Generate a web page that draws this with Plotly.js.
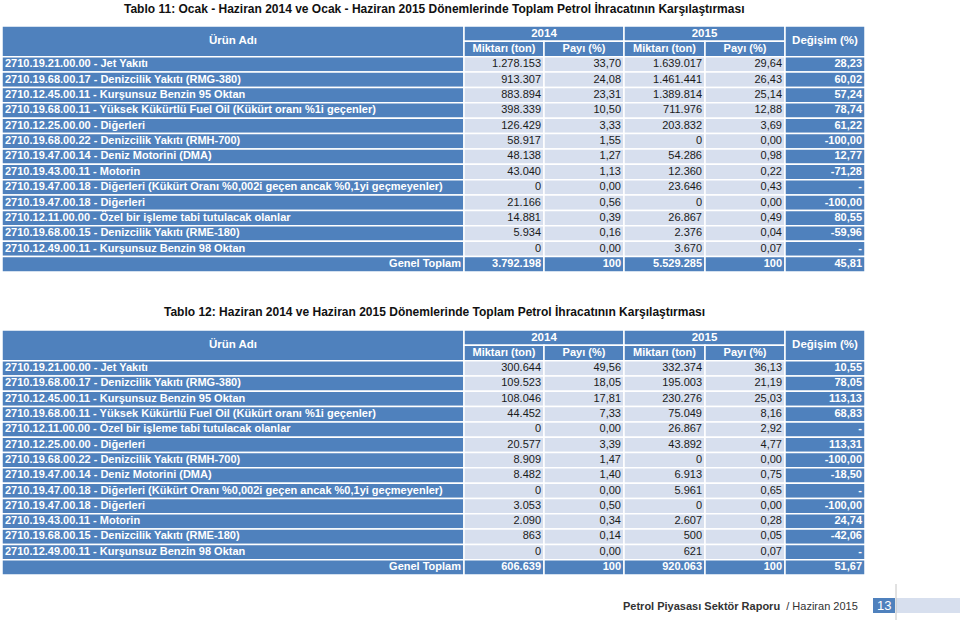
<!DOCTYPE html>
<html><head><meta charset="utf-8">
<script src="https://cdn.plot.ly/plotly-3.0.1.min.js"></script>
<style>html,body{margin:0;padding:0;background:#fff}#chart{width:960px;height:620px}</style>
</head><body><div id="chart"></div>
<script>
// ---------- DATA ----------
const title11 = "Tablo 11: Ocak - Haziran 2014 ve Ocak - Haziran 2015 Dönemlerinde Toplam Petrol İhracatının Karşılaştırması";
const title12 = "Tablo 12: Haziran 2014 ve Haziran 2015 Dönemlerinde Toplam Petrol İhracatının Karşılaştırması";
const headerProduct = "Ürün Adı";
const headerYears = ["2014", "2015"];
const headerSub = ["Miktarı (ton)", "Payı (%)", "Miktarı (ton)", "Payı (%)"];
const headerChange = "Değişim (%)";
const totalLabel = "Genel Toplam";

const t11Products = [
  "2710.19.21.00.00 - Jet Yakıtı",
  "2710.19.68.00.17 - Denizcilik Yakıtı (RMG-380)",
  "2710.12.45.00.11 - Kurşunsuz Benzin 95 Oktan",
  "2710.19.68.00.11 - Yüksek Kükürtlü Fuel Oil (Kükürt oranı %1i geçenler)",
  "2710.12.25.00.00 - Diğerleri",
  "2710.19.68.00.22 - Denizcilik Yakıtı (RMH-700)",
  "2710.19.47.00.14 - Deniz Motorini (DMA)",
  "2710.19.43.00.11 - Motorin",
  "2710.19.47.00.18 - Diğerleri (Kükürt Oranı %0,002i geçen ancak %0,1yi geçmeyenler)",
  "2710.19.47.00.18 - Diğerleri",
  "2710.12.11.00.00 - Özel bir işleme tabi tutulacak olanlar",
  "2710.19.68.00.15 - Denizcilik Yakıtı (RME-180)",
  "2710.12.49.00.11 - Kurşunsuz Benzin 98 Oktan"
];
const t11Qty2014   = [1278153, 913307, 883894, 398339, 126429, 58917, 48138, 43040, 0, 21166, 14881, 5934, 0];
const t11Share2014 = [33.70, 24.08, 23.31, 10.50, 3.33, 1.55, 1.27, 1.13, 0.00, 0.56, 0.39, 0.16, 0.00];
const t11Qty2015   = [1639017, 1461441, 1389814, 711976, 203832, 0, 54286, 12360, 23646, 0, 26867, 2376, 3670];
const t11Share2015 = [29.64, 26.43, 25.14, 12.88, 3.69, 0.00, 0.98, 0.22, 0.43, 0.00, 0.49, 0.04, 0.07];
const t11Change    = [28.23, 60.02, 57.24, 78.74, 61.22, -100.00, 12.77, -71.28, null, -100.00, 80.55, -59.96, null];
const t11Total     = [3792198, 100, 5529285, 100, 45.81];

const t12Products = [
  "2710.19.21.00.00 - Jet Yakıtı",
  "2710.19.68.00.17 - Denizcilik Yakıtı (RMG-380)",
  "2710.12.45.00.11 - Kurşunsuz Benzin 95 Oktan",
  "2710.19.68.00.11 - Yüksek Kükürtlü Fuel Oil (Kükürt oranı %1i geçenler)",
  "2710.12.11.00.00 - Özel bir işleme tabi tutulacak olanlar",
  "2710.12.25.00.00 - Diğerleri",
  "2710.19.68.00.22 - Denizcilik Yakıtı (RMH-700)",
  "2710.19.47.00.14 - Deniz Motorini (DMA)",
  "2710.19.47.00.18 - Diğerleri (Kükürt Oranı %0,002i geçen ancak %0,1yi geçmeyenler)",
  "2710.19.47.00.18 - Diğerleri",
  "2710.19.43.00.11 - Motorin",
  "2710.19.68.00.15 - Denizcilik Yakıtı (RME-180)",
  "2710.12.49.00.11 - Kurşunsuz Benzin 98 Oktan"
];
const t12Qty2014   = [300644, 109523, 108046, 44452, 0, 20577, 8909, 8482, 0, 3053, 2090, 863, 0];
const t12Share2014 = [49.56, 18.05, 17.81, 7.33, 0.00, 3.39, 1.47, 1.40, 0.00, 0.50, 0.34, 0.14, 0.00];
const t12Qty2015   = [332374, 195003, 230276, 75049, 26867, 43892, 0, 6913, 5961, 0, 2607, 500, 621];
const t12Share2015 = [36.13, 21.19, 25.03, 8.16, 2.92, 4.77, 0.00, 0.75, 0.65, 0.00, 0.28, 0.05, 0.07];
const t12Change    = [10.55, 78.05, 113.13, 68.83, null, 113.31, -100.00, -18.50, null, -100.00, 24.74, -42.06, null];
const t12Total     = [606639, 100, 920063, 100, 51.67];

const footerBold = "Petrol Piyasası Sektör Raporu";
const footerRest = "/ Haziran 2015";
const pageNo = "13";

// ---------- STYLE / LAYOUT CONSTANTS ----------
const W = 960, H = 620;
const BLUE = "#4F81BD", LIGHT = "#D7DFEE", DARK = "#1a1a1a";
const FONT = "Liberation Sans, Arial, Helvetica, sans-serif";
const colEdges = [2, 464, 544, 624, 705, 785, 865];
const PAD = 3;
const NROWS = 16; // 2 header rows + 13 items + total

// ---------- HELPERS ----------
function fmtInt(n){ return String(Math.round(n)).replace(/\B(?=(\d{3})+(?!\d))/g, "."); }
function fmtDec(n){ if(n===null) return "-"; const s = Math.abs(n).toFixed(2).split("."); return (n<0?"-":"") + fmtInt(+s[0]) + "," + s[1]; }
function px2x(p){ return p / W; }
function px2y(p){ return 1 - p / H; }

const shapes = [], annotations = [], traces = [];

function cell(yref, c0, c1, r0, r1, fill){
  shapes.push({type:"rect", xref:"x", yref:yref, x0:colEdges[c0], x1:colEdges[c1], y0:r0, y1:r1,
    fillcolor:fill, line:{color:"#ffffff", width:1.5}, layer:"below"});
}
function textTrace(yaxis, xs, ys, texts, pos, color, bold, size){
  traces.push({type:"scatter", mode:"text", x:xs, y:ys, yaxis:yaxis, xaxis:"x",
    text: texts.map(t => bold ? "<b>"+t+"</b>" : t), textposition:pos,
    textfont:{family:FONT, size:size||11, color:color}, cliponaxis:false,
    hoverinfo:"skip", showlegend:false});
}

function buildTable(yaxis, products, q14, s14, q15, s15, chg, total){
  const yref = yaxis;
  cell(yref, 0, 1, 0, 2, BLUE);
  cell(yref, 1, 3, 0, 1, BLUE);
  cell(yref, 3, 5, 0, 1, BLUE);
  for (let c = 1; c <= 4; c++) cell(yref, c, c+1, 1, 2, BLUE);
  cell(yref, 5, 6, 0, 2, BLUE);
  const n = products.length;
  for (let i = 0; i < n; i++){
    const r = 2 + i;
    cell(yref, 0, 1, r, r+1, BLUE);
    for (let c = 1; c <= 4; c++) cell(yref, c, c+1, r, r+1, LIGHT);
    cell(yref, 5, 6, r, r+1, BLUE);
  }
  const rt = 2 + n;
  for (let c = 0; c <= 5; c++) cell(yref, c, c+1, rt, rt+1, BLUE);

  const mid = (a,b) => (colEdges[a]+colEdges[b])/2;
  textTrace(yaxis, [mid(0,1)], [1], [headerProduct], "middle center", "#fff", true, 11.5);
  textTrace(yaxis, [mid(1,3), mid(3,5)], [0.5, 0.5], headerYears, "middle center", "#fff", true, 11.5);
  textTrace(yaxis, [mid(1,2), mid(2,3), mid(3,4), mid(4,5)], [1.5,1.5,1.5,1.5], headerSub, "middle center", "#fff", true, 11);
  textTrace(yaxis, [mid(5,6)], [1], [headerChange], "middle center", "#fff", true, 11.5);

  const rows = products.map((_, i) => 2 + i + 0.5);
  textTrace(yaxis, products.map(() => colEdges[0] + PAD), rows, products, "middle right", "#fff", true);
  const cols = [q14.map(fmtInt), s14.map(fmtDec), q15.map(fmtInt), s15.map(fmtDec)];
  cols.forEach((vals, k) => {
    textTrace(yaxis, vals.map(() => colEdges[k+2] - PAD), rows, vals, "middle left", DARK, false);
  });
  const cv = chg.map(fmtDec);
  textTrace(yaxis, cv.map(() => colEdges[6] - PAD), rows, cv, "middle left", "#fff", true);

  const yT = rt + 0.5;
  textTrace(yaxis, [colEdges[1] - PAD], [yT], [totalLabel], "middle left", "#fff", true);
  const totTexts = [fmtInt(total[0]), fmtInt(total[1]), fmtInt(total[2]), fmtInt(total[3]), fmtDec(total[4])];
  textTrace(yaxis, totTexts.map((_, k) => colEdges[k+2] - PAD), totTexts.map(() => yT), totTexts, "middle left", "#fff", true);
}

buildTable("y", t11Products, t11Qty2014, t11Share2014, t11Qty2015, t11Share2015, t11Change, t11Total);
buildTable("y2", t12Products, t12Qty2014, t12Share2014, t12Qty2015, t12Share2015, t12Change, t12Total);

annotations.push({xref:"paper", yref:"paper", x:px2x(434), y:px2y(8), text:"<b>"+title11+"</b>", showarrow:false,
  xanchor:"center", yanchor:"middle", font:{family:FONT, size:12, color:"#111"}});
annotations.push({xref:"paper", yref:"paper", x:px2x(434), y:px2y(312), text:"<b>"+title12+"</b>", showarrow:false,
  xanchor:"center", yanchor:"middle", font:{family:FONT, size:12, color:"#111"}});

annotations.push({xref:"paper", yref:"paper", x:px2x(621), y:px2y(606), text:"<b>"+footerBold+"</b>  "+footerRest, showarrow:false,
  xanchor:"left", yanchor:"middle", font:{family:FONT, size:11, color:"#333"}});
shapes.push({type:"rect", xref:"paper", yref:"paper", x0:px2x(896), x1:px2x(960), y0:px2y(613), y1:px2y(598), fillcolor:LIGHT, line:{width:0}});
shapes.push({type:"rect", xref:"paper", yref:"paper", x0:px2x(873), x1:px2x(895), y0:px2y(613), y1:px2y(598), fillcolor:BLUE, line:{width:0}});
shapes.push({type:"line", xref:"paper", yref:"paper", x0:px2x(896), x1:px2x(896), y0:px2y(584), y1:px2y(620), line:{color:"#c4c4c4", width:1}});
annotations.push({xref:"paper", yref:"paper", x:px2x(884), y:px2y(605.5), text:pageNo, showarrow:false,
  xanchor:"center", yanchor:"middle", font:{family:FONT, size:13, color:"#fff"}});

const layout = {
  width: W, height: H,
  margin: {l:0, r:0, t:0, b:0},
  paper_bgcolor: "#fff", plot_bgcolor: "#fff",
  showlegend: false,
  xaxis: {range:[0, W], domain:[0,1], visible:false, fixedrange:true},
  yaxis: {range:[NROWS, 0], domain:[px2y(272), px2y(26)], visible:false, fixedrange:true},
  yaxis2: {range:[NROWS, 0], domain:[px2y(575), px2y(330)], visible:false, fixedrange:true, anchor:"x"},
  shapes: shapes,
  annotations: annotations
};

Plotly.newPlot("chart", traces, layout, {staticPlot:true, displayModeBar:false});
</script>
</body></html>
